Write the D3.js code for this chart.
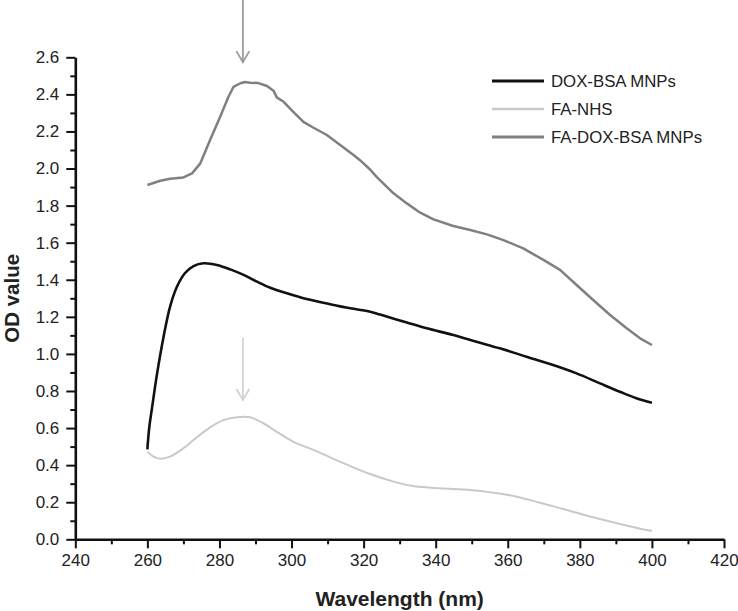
<!DOCTYPE html>
<html>
<head>
<meta charset="utf-8">
<script src="https://cdn.jsdelivr.net/npm/d3@7/dist/d3.min.js"></script>
<style>
  html, body { margin: 0; padding: 0; background: #fff; }
  svg { display: block; font-family: "Liberation Sans", Arial, Helvetica, sans-serif; }
</style>
</head>
<body>
<svg id="chart" width="738" height="611"></svg>
<script>
// ---- Data ----
const seriesNames = ["DOX-BSA MNPs", "FA-NHS", "FA-DOX-BSA MNPs"];
const seriesColors = ["#111111", "#c9c9c9", "#808080"];
const seriesWidths = [2.6, 2, 2.5];

const doxBsaWl = [260.0, 260.5, 261.3, 262.7, 264.5, 266.3, 268.2, 270.4, 272.8, 275.6, 279.3, 283.0, 286.7, 290.4, 294.1, 298.7, 304.2, 310.7, 316.3, 321.8, 324.6, 332.0, 337.5, 344.9, 351.3, 357.8, 365.2, 372.6, 379.1, 385.6, 391.1, 395.7, 400.0];
const doxBsaOD = [0.485, 0.60, 0.71, 0.895, 1.093, 1.255, 1.362, 1.435, 1.474, 1.489, 1.480, 1.456, 1.426, 1.390, 1.357, 1.327, 1.296, 1.268, 1.246, 1.228, 1.212, 1.169, 1.138, 1.102, 1.066, 1.030, 0.985, 0.940, 0.895, 0.841, 0.796, 0.761, 0.737];

const faNhsWl = [260.0, 261.7, 263.6, 266.3, 270.0, 273.7, 277.4, 281.1, 284.8, 288.5, 292.2, 295.9, 300.5, 306.1, 310.7, 316.3, 321.8, 328.3, 333.7, 341.2, 349.6, 356.0, 362.5, 369.0, 376.4, 383.7, 391.1, 396.7, 400.0];
const faNhsOD = [0.473, 0.446, 0.435, 0.446, 0.491, 0.550, 0.604, 0.643, 0.658, 0.658, 0.626, 0.580, 0.526, 0.482, 0.442, 0.395, 0.352, 0.311, 0.287, 0.275, 0.266, 0.251, 0.230, 0.197, 0.158, 0.119, 0.083, 0.057, 0.045];

const faDoxBsaWl = [260.0, 263.6, 266.3, 270.0, 272.4, 274.7, 277.4, 280.2, 282.5, 283.9, 285.8, 287.1, 288.5, 290.8, 293.2, 295.0, 295.9, 297.8, 300.5, 303.3, 306.1, 309.8, 313.5, 317.2, 319.0, 321.8, 323.6, 328.3, 332.0, 335.7, 339.4, 344.9, 349.6, 354.2, 358.8, 364.3, 369.9, 374.5, 379.1, 383.7, 388.4, 393.0, 396.7, 400.0];
const faDoxBsaOD = [1.911, 1.934, 1.945, 1.952, 1.974, 2.028, 2.154, 2.279, 2.387, 2.441, 2.460, 2.467, 2.463, 2.461, 2.445, 2.420, 2.384, 2.360, 2.306, 2.252, 2.220, 2.181, 2.127, 2.073, 2.045, 1.995, 1.955, 1.866, 1.812, 1.762, 1.726, 1.690, 1.668, 1.645, 1.614, 1.569, 1.507, 1.453, 1.372, 1.291, 1.210, 1.138, 1.084, 1.048];

const xTickValues = [240, 260, 280, 300, 320, 340, 360, 380, 400, 420];
const yTickValues = [0.0, 0.2, 0.4, 0.6, 0.8, 1.0, 1.2, 1.4, 1.6, 1.8, 2.0, 2.2, 2.4, 2.6];
const xMinorTicks = [250, 270, 290, 310, 330, 350, 370, 390, 410];
const yMinorTicks = [0.1, 0.3, 0.5, 0.7, 0.9, 1.1, 1.3, 1.5, 1.7, 1.9, 2.1, 2.3, 2.5];

// arrows marking the ~286.5 nm peak: [wavelength, fromOD, toOD]
const arrowWl = 286.5;
const arrowTop = [2.92, 2.574];
const arrowBottom = [1.086, 0.751];

// ---- Chart ----
const svg = d3.select("#chart");
const x = d3.scaleLinear().domain([240, 420]).range([75.3, 724]);
const y = d3.scaleLinear().domain([0, 2.6]).range([539.3, 57.3]);

const series = [
  { name: seriesNames[0], wl: doxBsaWl, od: doxBsaOD, curve: d3.curveCatmullRom },
  { name: seriesNames[1], wl: faNhsWl, od: faNhsOD, curve: d3.curveCatmullRom },
  { name: seriesNames[2], wl: faDoxBsaWl, od: faDoxBsaOD, curve: d3.curveLinear }
];

// Axes
svg.append("g").attr("transform", `translate(0,${y(0)})`)
  .call(d3.axisBottom(x).tickValues(xTickValues).tickSize(9).tickSizeOuter(0).tickPadding(6).tickFormat(d3.format("d")));
const xMinor = svg.append("g").attr("transform", `translate(0,${y(0)})`)
  .call(d3.axisBottom(x).tickValues(xMinorTicks).tickSize(5).tickSizeOuter(0).tickFormat(""));
xMinor.select(".domain").remove();

svg.append("g").attr("transform", `translate(${x(240)},0)`)
  .call(d3.axisLeft(y).tickValues(yTickValues).tickSize(9).tickSizeOuter(0).tickPadding(7).tickFormat(d3.format(".1f")));
const yMinor = svg.append("g").attr("transform", `translate(${x(240)},0)`)
  .call(d3.axisLeft(y).tickValues(yMinorTicks).tickSize(5).tickSizeOuter(0).tickFormat(""));
yMinor.select(".domain").remove();

svg.selectAll(".domain").attr("stroke", "#111").attr("stroke-width", 2.6);
svg.selectAll(".tick line").attr("stroke", "#111").attr("stroke-width", 2);
svg.selectAll(".tick text").attr("font-size", 17).attr("fill", "#222")
  .attr("font-family", "'Liberation Sans', Arial, sans-serif");

// Axis titles
svg.append("text")
  .attr("x", (x(240) + x(420)) / 2).attr("y", 606)
  .attr("text-anchor", "middle").attr("font-weight", "bold").attr("font-size", 21).attr("fill", "#222")
  .text("Wavelength (nm)");
svg.append("text")
  .attr("transform", `translate(19,${(y(0) + y(2.6)) / 2}) rotate(-90)`)
  .attr("text-anchor", "middle").attr("font-weight", "bold").attr("font-size", 20.5).attr("fill", "#222")
  .text("OD value");

// Lines
series.forEach((s, i) => {
  const pts = s.wl.map((w, k) => [w, s.od[k]]);
  svg.append("path")
    .datum(pts)
    .attr("fill", "none")
    .attr("stroke", seriesColors[i])
    .attr("stroke-width", seriesWidths[i])
    .attr("stroke-linejoin", "round")
    .attr("d", d3.line().x(d => x(d[0])).y(d => y(d[1])).curve(s.curve));
});

// Arrows
function arrow(range, color) {
  const ax = x(arrowWl), y0 = y(range[0]), y1 = y(range[1]);
  const g = svg.append("g").attr("stroke", color).attr("stroke-width", 1.8).attr("fill", "none");
  g.append("line").attr("x1", ax).attr("x2", ax).attr("y1", y0).attr("y2", y1);
  g.append("path").attr("d", `M${ax - 6.5},${y1 - 11} L${ax},${y1} L${ax + 6.5},${y1 - 11}`);
}
arrow(arrowTop, "#9c9c9c");
arrow(arrowBottom, "#d2d2d2");

// Legend
const legend = svg.append("g");
seriesNames.forEach((name, i) => {
  const ly = 81 + i * 28;
  legend.append("line").attr("x1", 492).attr("x2", 544).attr("y1", ly).attr("y2", ly)
    .attr("stroke", seriesColors[i]).attr("stroke-width", seriesWidths[i] + 0.4);
  legend.append("text").attr("x", 551).attr("y", ly + 6)
    .attr("font-size", 16.8).attr("fill", "#222").text(name);
});
</script>
</body>
</html>
